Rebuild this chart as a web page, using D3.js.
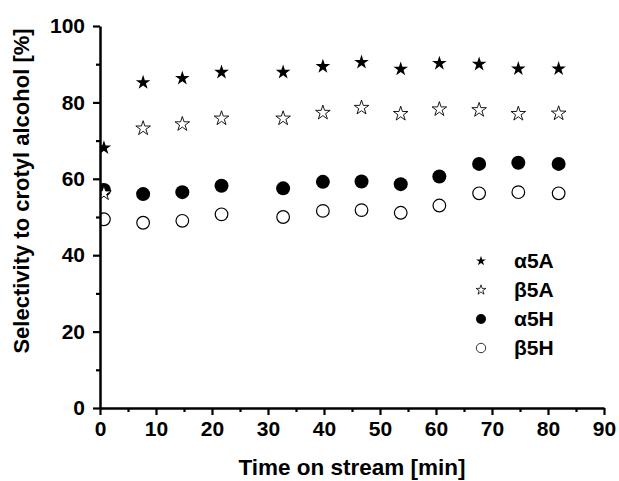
<!DOCTYPE html>
<html>
<head>
<meta charset="utf-8">
<script src="https://cdn.jsdelivr.net/npm/d3@7"></script>
<style>
  body { margin: 0; background: #fff; }
  text { font-family: "Liberation Sans", Arial, sans-serif; font-weight: bold; fill: #000; }
</style>
</head>
<body>
<div id="chart"></div>
<script>
// Data - - - - - - - - - - - - - - - - - - - - - - - - -
var times = [0.7, 7.7, 14.7, 21.7, 32.7, 39.8, 46.7, 53.7, 60.6, 67.7, 74.7, 81.9]

var alpha5A = [68.1, 85.2, 86.3, 87.9, 87.9, 89.4, 90.5, 88.7, 90.2, 90.0, 88.8, 88.8]
var beta5A  = [56.2, 73.2, 74.3, 75.8, 75.8, 77.3, 78.6, 77.0, 78.2, 78.0, 77.0, 77.1]
var alpha5H = [57.1, 56.0, 56.5, 58.2, 57.5, 59.2, 59.3, 58.6, 60.6, 63.9, 64.2, 63.9]
var beta5H  = [49.4, 48.5, 49.0, 50.7, 50.0, 51.6, 51.8, 51.1, 53.0, 56.2, 56.5, 56.2]

var seriesNames = ["\u03b15A", "\u03b25A", "\u03b15H", "\u03b25H"]
var xTicks = d3.range(0, 91, 10)
var yTicks = d3.range(0, 101, 20)

// Canvas - - - - - - - - - - - - - - - - - - - - - - - - - - - - - - - - - -
var margin = {top: 26, right: 15, bottom: 73, left: 100}
var svgWidth = 619
  , svgHeight = 481
  , width = svgWidth - margin.left - margin.right
  , height = svgHeight - margin.top - margin.bottom

var svg = d3.select("#chart").append("svg")
    .attr("width", svgWidth)
    .attr("height", svgHeight)

var chart = svg.append("g")
    .attr("transform", "translate(" + margin.left + "," + margin.top + ")")

var x = d3.scaleLinear().domain([0, 90]).range([0, width])
var y = d3.scaleLinear().domain([0, 100]).range([height, 0])

// marker styles per series
var styles = [
  {type: d3.symbolStar,   size: 66, fill: "#000", stroke: "none", sw: 0},
  {type: d3.symbolStar,   size: 66, fill: "#fff", stroke: "#000", sw: 0.9},
  {type: d3.symbolCircle, size: Math.PI * 49, fill: "#000", stroke: "none", sw: 0},
  {type: d3.symbolCircle, size: Math.PI * 40, fill: "#fff", stroke: "#000", sw: 1.2}
]
var legendSizes = [30, 30, Math.PI * 25, Math.PI * 22]

var allSeries = [alpha5A, beta5A, alpha5H, beta5H]

chart.append("clipPath").attr("id", "plotClip")
  .append("rect").attr("x", 0).attr("y", -10).attr("width", width + 10).attr("height", height + 10)

// Points - draw lowest series first so the stars sit on top
var pts = chart.append("g").attr("clip-path", "url(#plotClip)")
for (var s = allSeries.length - 1; s >= 0; s--) {
  var st = styles[s]
  pts.append("g")
    .selectAll("path")
    .data(allSeries[s])
    .enter().append("path")
      .attr("transform", function(d, i) { return "translate(" + x(times[i]) + "," + y(d) + ")" })
      .attr("d", d3.symbol().type(st.type).size(st.size))
      .attr("fill", st.fill)
      .attr("stroke", st.stroke)
      .attr("stroke-width", st.sw)
}

// Axes - - - - - - - - - - - - - - - - - - - - - - - - - - - - - - - - - - -
function styleAxis(g) {
  g.selectAll(".domain").attr("stroke-width", 2.5)
  g.selectAll(".tick line").attr("stroke-width", 2.2)
  g.selectAll(".tick text").style("font-size", "21px").style("font-family", "'Liberation Sans', Arial, sans-serif").style("font-weight", "bold")
}

// minor ticks
chart.append("g")
    .attr("transform", "translate(0," + height + ")")
    .call(d3.axisBottom(x).tickValues(d3.range(5, 90, 10)).tickSize(4).tickFormat(""))
    .call(function(g) { g.select(".domain").remove(); g.selectAll("line").attr("stroke-width", 2.2) })
chart.append("g")
    .call(d3.axisLeft(y).tickValues(d3.range(10, 100, 20)).tickSize(4).tickFormat(""))
    .call(function(g) { g.select(".domain").remove(); g.selectAll("line").attr("stroke-width", 2.2) })

chart.append("g")
    .attr("transform", "translate(0," + height + ")")
    .call(d3.axisBottom(x).tickValues(xTicks).tickSizeInner(7).tickSizeOuter(0).tickPadding(6))
    .call(styleAxis)

chart.append("g")
    .call(d3.axisLeft(y).tickValues(yTicks).tickSizeInner(7).tickSizeOuter(0).tickPadding(8))
    .call(styleAxis)

// Axis titles
svg.append("text")
    .attr("x", 352)
    .attr("y", 475)
    .attr("text-anchor", "middle")
    .style("font-size", "22.5px")
    .text("Time on stream [min]")

svg.append("text")
    .attr("transform", "translate(29,191) rotate(-90)")
    .attr("text-anchor", "middle")
    .style("font-size", "22px")
    .text("Selectivity to crotyl alcohol [%]")

// Legend
var legend = svg.append("g")
var rows = legend.selectAll("g")
    .data(seriesNames)
    .enter().append("g")
      .attr("transform", function(d, i) { return "translate(481," + (261 + i * 29) + ")" })

rows.append("path")
    .attr("d", function(d, i) { return d3.symbol().type(styles[i].type).size(legendSizes[i])() })
    .attr("fill", function(d, i) { return styles[i].fill })
    .attr("stroke", function(d, i) { return styles[i].stroke })
    .attr("stroke-width", function(d, i) { return styles[i].sw ? 0.8 : 0 })

rows.append("text")
    .attr("x", 33)
    .attr("y", 7)
    .style("font-size", "21px")
    .text(function(d) { return d })
</script>
</body>
</html>
